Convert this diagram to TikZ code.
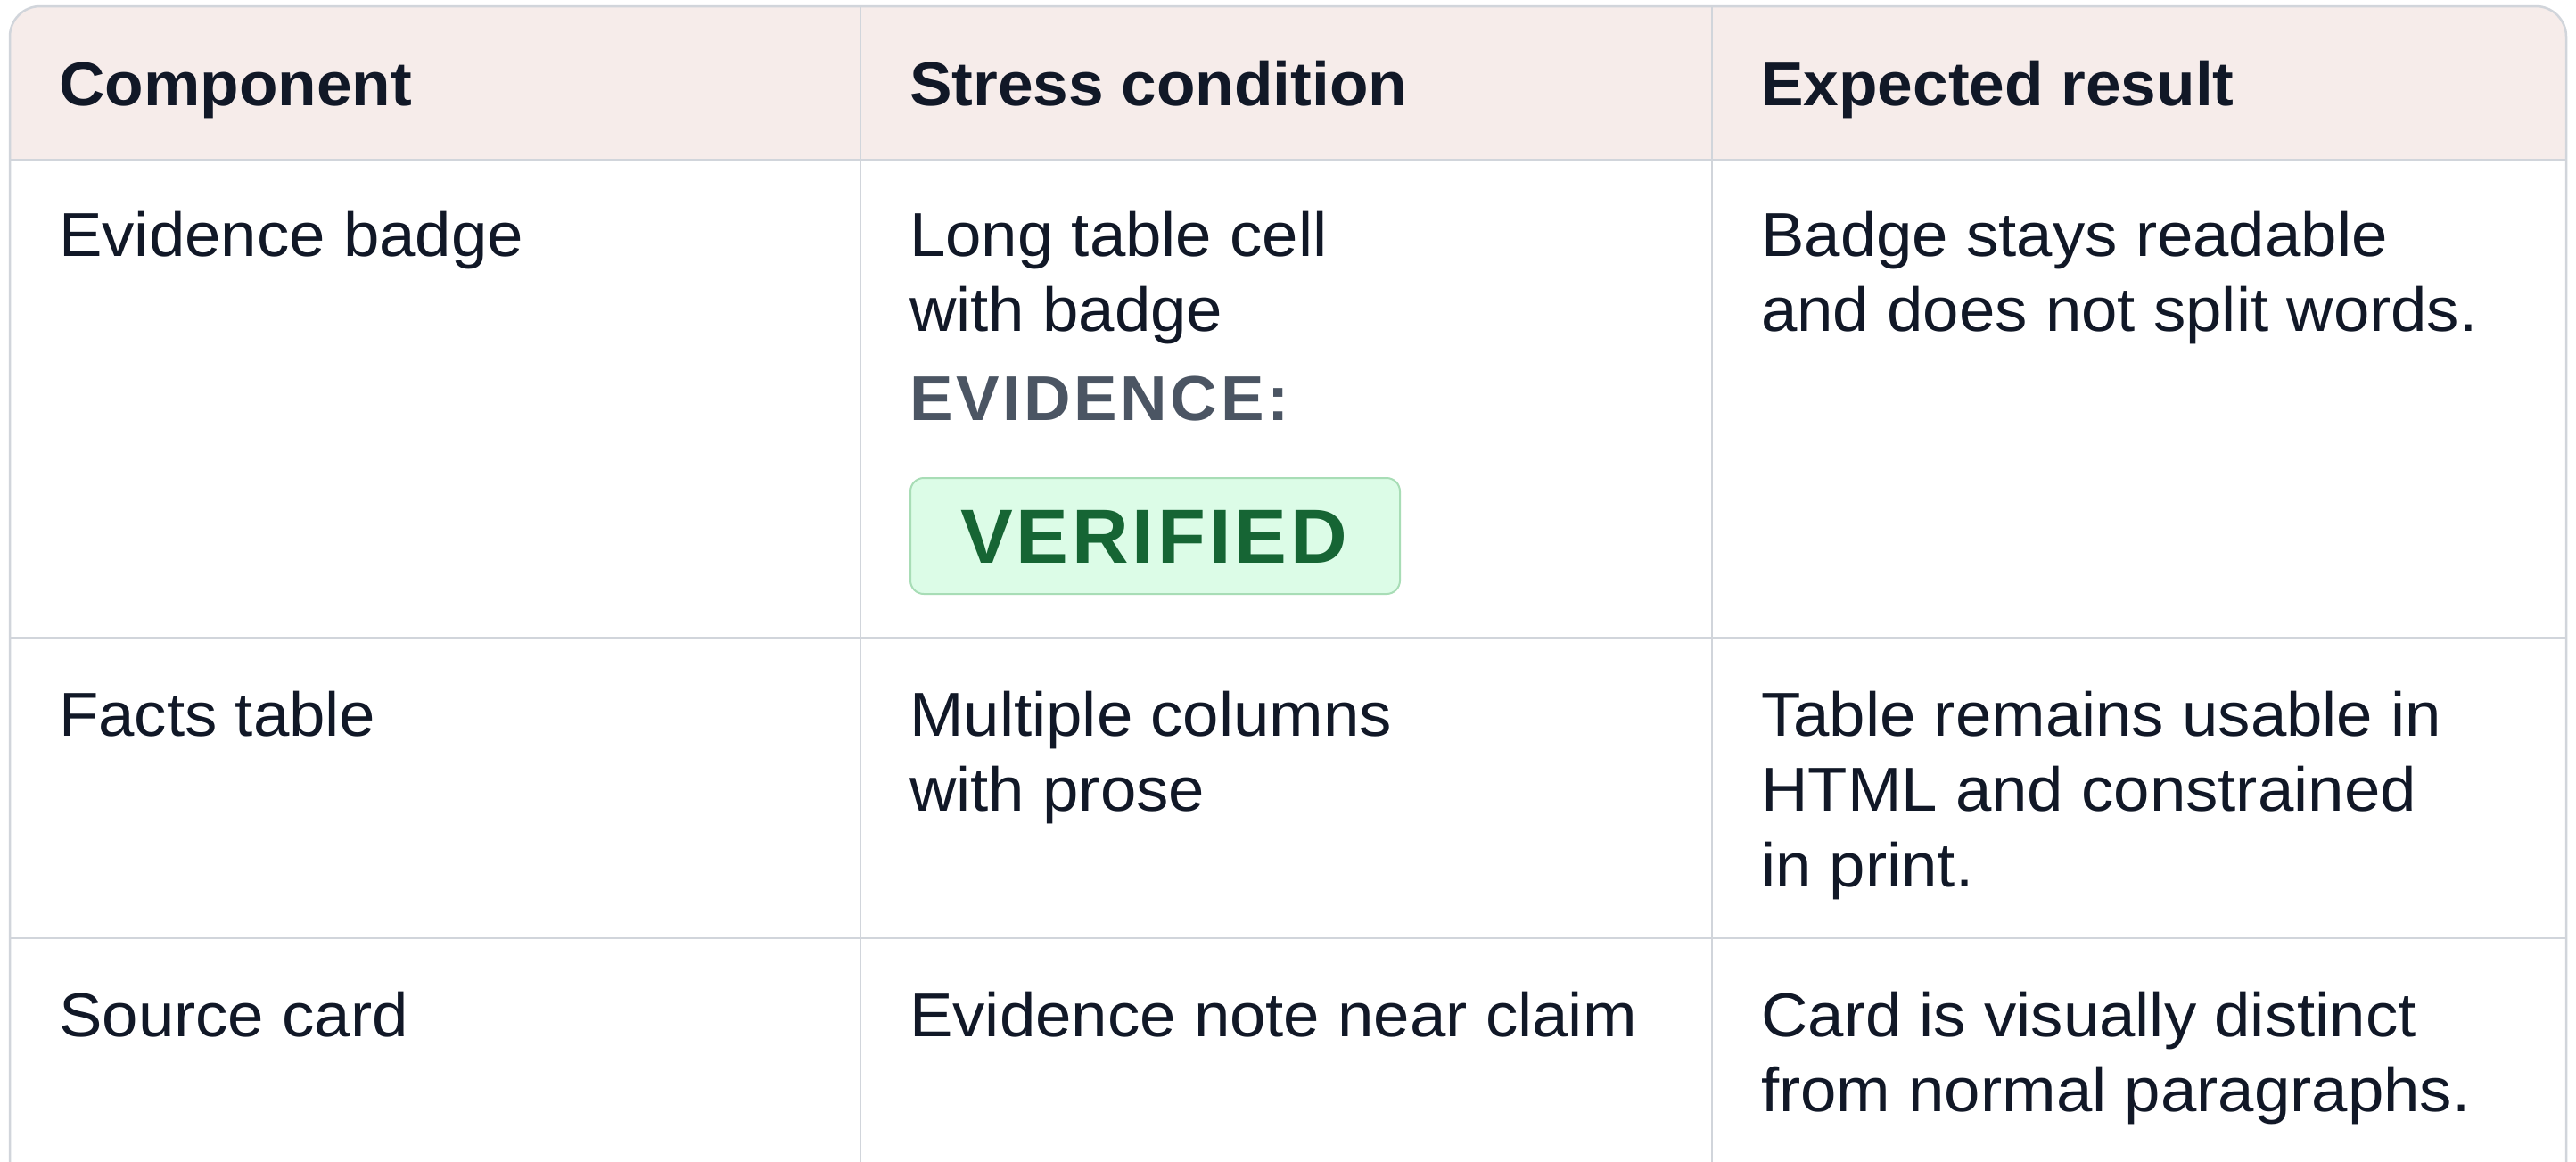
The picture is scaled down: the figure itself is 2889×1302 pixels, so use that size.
\documentclass[tikz,border=0pt]{standalone}
\usepackage{fontspec}
\setmainfont{Liberation Sans}[FakeStretch=1.045, BoldFeatures={FakeStretch=1.025}]
\definecolor{ink}{HTML}{111827}
\definecolor{gridc}{HTML}{D1D5DB}
\definecolor{headbg}{HTML}{F6ECEA}
\definecolor{evgray}{HTML}{4B5563}
\definecolor{vgreen}{HTML}{166534}
\definecolor{vfill}{HTML}{DCFCE7}
\definecolor{vline}{HTML}{A8DDB6}
\begin{document}
\begin{tikzpicture}[x=1pt,y=-1pt,
  body/.style={inner sep=0pt, anchor=base west, text=ink, font=\fontsize{69.5}{84}\selectfont},
  head/.style={inner sep=0pt, anchor=base west, text=ink, font=\fontsize{69.5}{84}\selectfont\bfseries},
  evlabel/.style={inner sep=0pt, anchor=base west, text=evgray, font=\fontsize{71}{84}\selectfont\bfseries\addfontfeatures{LetterSpace=5.1}},
  badgebox/.style={draw=vline, fill=vfill, line width=2pt, rounded corners=15pt, minimum width=549pt, minimum height=130pt, inner sep=0pt},
  badgetext/.style={inner sep=0pt, anchor=base, text=vgreen, font=\fontsize{86}{90}\selectfont\bfseries\addfontfeatures{LetterSpace=4.5}},
  gridline/.style={draw=gridc, line width=2.5pt}]
\clip (0,0) rectangle (2889,1302);
\fill[white] (0,0) rectangle (2889,1302);
% header background
\begin{scope}
  \clip (0,0) rectangle (2889,179);
  \fill[headbg, rounded corners=34pt] (11,7) rectangle (2878,500);
\end{scope}
% grid
\draw[gridline] (11,179) -- (2878,179);
\draw[gridline] (11,715) -- (2878,715);
\draw[gridline] (11,1052) -- (2878,1052);
\draw[gridline] (965,7) -- (965,1310);
\draw[gridline] (1920,7) -- (1920,1310);
% outer frame
\draw[gridline, rounded corners=34pt] (11,1400) -- (11,7) -- (2878,7) -- (2878,1400);
% header
\node[head] (h1) at (66,118) {Component};
\node[head] (h2) at (1020,118) {Stress condition};
\node[head] (h3) at (1975,118) {Expected result};
% row 1
\node[body] (r1c1) at (66,287) {Evidence badge};
\node[body] (r1c2a) at (1020,287) {Long table cell};
\node[body] (r1c2b) at (1020,371.5) {with badge};
\node[evlabel] (r1ev) at (1020,471) {EVIDENCE:};
\node[badgebox] (badge) at (1295.5,601) {};
\node[badgetext] (badgetxt) at (1294,631) {VERIFIED};
\node[body] (r1c3a) at (1975,287) {Badge stays readable};
\node[body] (r1c3b) at (1975,371.5) {and does not split words.};
% row 2
\node[body] (r2c1) at (66,825) {Facts table};
\node[body] (r2c2a) at (1020,825) {Multiple columns};
\node[body] (r2c2b) at (1020,909.5) {with prose};
\node[body] (r2c3a) at (1975,825) {Table remains usable in};
\node[body] (r2c3b) at (1975,909.5) {HTML and constrained};
\node[body] (r2c3c) at (1975,994) {in print.};
% row 3
\node[body] (r3c1) at (66,1162) {Source card};
\node[body] (r3c2) at (1020,1162) {Evidence note near claim};
\node[body] (r3c3a) at (1975,1162) {Card is visually distinct};
\node[body] (r3c3b) at (1975,1246.5) {from normal paragraphs.};
\end{tikzpicture}
\end{document}
